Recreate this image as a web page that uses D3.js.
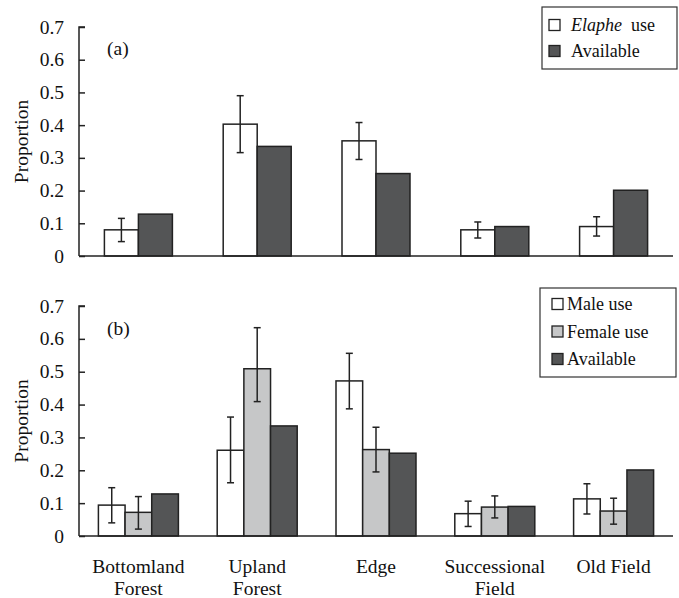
<!DOCTYPE html>
<html>
<head>
<meta charset="utf-8">
<script src="https://cdn.jsdelivr.net/npm/d3@7"></script>
<style>
  body { margin: 0; background: #fff; }
</style>
</head>
<body>
<div id="chart"></div>
<script>
// habitat categories (two-line labels)
const categories = ["Bottomland Forest", "Upland Forest", "Edge", "Successional Field", "Old Field"];
const categoryLines = [["Bottomland", "Forest"], ["Upland", "Forest"], ["Edge"], ["Successional", "Field"], ["Old Field"]];
const yTicks = [0, 0.1, 0.2, 0.3, 0.4, 0.5, 0.6, 0.7];

// panel (a)
const elapheUse = [0.080, 0.403, 0.352, 0.080, 0.090];
const elapheLow = [0.044, 0.316, 0.295, 0.055, 0.061];
const elapheHigh = [0.115, 0.490, 0.408, 0.104, 0.120];
const available = [0.128, 0.335, 0.252, 0.090, 0.201];

// panel (b)
const maleUse = [0.094, 0.261, 0.472, 0.068, 0.113];
const maleLow = [0.040, 0.162, 0.387, 0.029, 0.067];
const maleHigh = [0.147, 0.362, 0.556, 0.106, 0.159];
const femaleUse = [0.072, 0.509, 0.263, 0.088, 0.076];
const femaleLow = [0.021, 0.409, 0.195, 0.055, 0.036];
const femaleHigh = [0.120, 0.634, 0.331, 0.122, 0.115];

const W = 679, H = 598;
const FONT = "'Liberation Serif'";
const FS = 19.5;
const LFS = 18;

const svg = d3.select("#chart").append("svg").attr("width", W).attr("height", H);

const x0 = d3.scaleBand().domain(categories).range([79, 673]).padding(0);
const fills = {white: "#ffffff", light: "#c6c7c8", dark: "#545556"};

function txt(sel, size){
  return sel.append("text").attr("font-family", FONT).attr("font-size", size || FS).attr("fill", "#111");
}

function panel(opts){
  const y = d3.scaleLinear().domain([0, 0.7]).range(opts.yRange);
  const g = svg.append("g");
  const keys = opts.series.map(s => s.key);
  const x1 = d3.scaleBand().domain(keys).range([-opts.groupHalf, opts.groupHalf]).padding(0);

  // bars
  opts.series.forEach(s => {
    g.selectAll(null).data(categories).enter().append("rect")
      .attr("x", c => x0(c) + x0.bandwidth() / 2 + x1(s.key))
      .attr("y", (c, i) => y(s.values[i]))
      .attr("width", x1.bandwidth())
      .attr("height", (c, i) => y(0) - y(s.values[i]))
      .attr("fill", fills[s.fill])
      .attr("stroke", "#222")
      .attr("stroke-width", 1.5);

    if (s.low) {
      const eb = g.selectAll(null).data(categories).enter().append("g")
        .attr("transform", c => `translate(${x0(c) + x0.bandwidth() / 2 + x1(s.key) + x1.bandwidth() / 2},0)`);
      eb.append("line").attr("x1", 0).attr("x2", 0)
        .attr("y1", (c, i) => y(s.low[i])).attr("y2", (c, i) => y(s.high[i]))
        .attr("stroke", "#222").attr("stroke-width", 1.5);
      eb.append("line").attr("x1", -3.5).attr("x2", 3.5)
        .attr("y1", (c, i) => y(s.low[i])).attr("y2", (c, i) => y(s.low[i]))
        .attr("stroke", "#222").attr("stroke-width", 1.5);
      eb.append("line").attr("x1", -3.5).attr("x2", 3.5)
        .attr("y1", (c, i) => y(s.high[i])).attr("y2", (c, i) => y(s.high[i]))
        .attr("stroke", "#222").attr("stroke-width", 1.5);
    }
  });

  // y axis (ticks inside)
  const yAxis = g.append("g").attr("transform", "translate(79,0)")
    .call(d3.axisRight(y).tickValues(yTicks).tickSize(6).tickFormat(""));
  yAxis.select(".domain").attr("stroke", "#222").attr("stroke-width", 1.5).attr("d", `M6,${y(0.7)}H0V${y(0)}`);
  yAxis.selectAll(".tick line").attr("stroke", "#222").attr("stroke-width", 1.5);

  yTicks.forEach(d => {
    txt(g).attr("x", 64).attr("y", y(d) + 6.5).attr("text-anchor", "end")
      .text(d === 0 ? "0" : d3.format(".1f")(d));
  });

  // x axis line
  g.append("line").attr("x1", 79).attr("x2", 673).attr("y1", y(0)).attr("y2", y(0))
    .attr("stroke", "#222").attr("stroke-width", 1.5);

  txt(g).attr("transform", `translate(28,${(y(0) + y(0.7)) / 2}) rotate(-90)`)
    .attr("text-anchor", "middle").text("Proportion");

  txt(g).attr("x", 107).attr("y", opts.tagY).text(opts.tag);

  // legend
  const lg = g.append("g");
  lg.append("rect").attr("x", opts.legend.x).attr("y", opts.legend.y)
    .attr("width", opts.legend.w).attr("height", opts.legend.h)
    .attr("fill", "#fff").attr("stroke", "#333").attr("stroke-width", 1.2);
  opts.series.forEach((s, i) => {
    const cy = opts.legend.y + opts.legend.first + i * opts.legend.step;
    lg.append("rect").attr("x", opts.legend.sx).attr("y", cy - 5.5)
      .attr("width", 11).attr("height", 11)
      .attr("fill", fills[s.fill]).attr("stroke", "#222").attr("stroke-width", 1.3);
    const t = txt(lg, LFS).attr("x", opts.legend.tx).attr("y", cy + 6);
    s.label.forEach(part => t.append("tspan").attr("font-style", part.italic ? "italic" : null).text(part.text));
  });
}

panel({
  yRange: [256, 27],
  groupHalf: 34,
  tag: "(a)", tagY: 55,
  series: [
    {key: "use", values: elapheUse, low: elapheLow, high: elapheHigh, fill: "white",
     label: [{text: "Elaphe", italic: true}, {text: "\u00a0 use"}]},
    {key: "avail", values: available, fill: "dark", label: [{text: "Available"}]}
  ],
  legend: {x: 542, y: 7, w: 135, h: 62, first: 18, step: 26, sx: 549, tx: 571}
});

panel({
  yRange: [536, 306],
  groupHalf: 40,
  tag: "(b)", tagY: 335,
  series: [
    {key: "male", values: maleUse, low: maleLow, high: maleHigh, fill: "white", label: [{text: "Male use"}]},
    {key: "female", values: femaleUse, low: femaleLow, high: femaleHigh, fill: "light", label: [{text: "Female use"}]},
    {key: "avail", values: available, fill: "dark", label: [{text: "Available"}]}
  ],
  legend: {x: 540, y: 288, w: 136, h: 89, first: 16, step: 27.5, sx: 552, tx: 567}
});

// category labels under panel (b)
const lab = svg.append("g");
categories.forEach((c, i) => {
  const cx = x0(c) + x0.bandwidth() / 2;
  const t = txt(lab).attr("x", cx).attr("y", 573).attr("text-anchor", "middle");
  categoryLines[i].forEach((line, j) => {
    t.append("tspan").attr("x", cx).attr("dy", j === 0 ? 0 : 22).text(line);
  });
});
</script>
</body>
</html>
